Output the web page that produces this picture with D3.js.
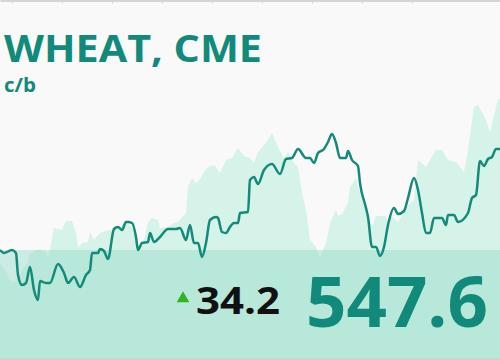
<!DOCTYPE html>
<html>
<head>
<meta charset="utf-8">
<script src="https://cdnjs.cloudflare.com/ajax/libs/d3/7.8.5/d3.min.js"></script>
<style>
  html, body { margin: 0; padding: 0; background: #f9f9f9; }
  svg { display: block; }
</style>
</head>
<body>
<div id="chart"></div>
<script>
// trading day offsets and settle prices (c/b)
const priceDays = [0,2,6,8,9,11,13,15,17,19,20,23,25,29,32,34,37,40,43,45,46,49,50,52,54,57,59,61,63,64,66,68,69,71,74,75,77,80,84,88,90,93,95,97,99,101,103,105,108,109,111,113,115,117,119,120,124,125,127,129,132,136,140,143,146,149,153,155,157,159,162,164,166,168,170,173,174,176,179,180,183,184,186,188,190,192,194,197,199,202,204,207,209,211,213,215,217,221,223,224,227,229,234,236,238,240,242,244,246,248,250];
const priceValues = [497.1,495.6,497.1,495.6,484.6,479.6,480.6,488.6,477.1,472.1,481.6,480.6,480.6,490.1,485.6,480.6,483.6,478.6,484.6,487.1,495.6,495.6,497.6,496.6,492.6,507.6,508.6,507.1,511.1,511.1,510.6,503.6,497.1,500.6,501.1,505.6,501.1,503.6,507.6,507.6,508.1,502.1,509.6,500.6,500.6,493.6,500.6,512.1,513.6,513.1,506.1,505.6,508.6,510.6,510.6,515.6,516.1,532.1,533.6,530.1,537.1,540.1,535.1,542.6,543.1,547.6,543.1,543.1,540.6,545.6,547.6,551.1,555.1,550.6,543.1,543.1,546.6,542.1,539.1,530.6,518.1,513.6,498.6,498.6,494.1,498.6,509.6,518.1,515.1,516.6,523.1,533.1,527.1,515.6,505.6,505.6,513.1,513.1,509.6,514.6,514.6,511.1,515.6,523.1,524.6,541.6,539.1,542.6,543.6,547.6,547.6];

// background series (shaded area)
const shadeDays = [0,3,5,7,9,11,14,15,18,20,23,24,25,27,31,33,36,38,39,41,44,45,47,50,54,56,58,60,63,65,68,70,72,74,76,79,80,84,87,89,93,94,96,98,99,102,104,107,110,113,116,119,122,125,127,129,133,136,139,142,144,147,149,151,153,155,158,160,163,165,168,169,171,174,175,178,179,182,184,186,188,193,194,195,199,204,207,209,213,215,218,221,224,228,232,234,237,239,243,245,247,249,250];
const shadeValues = [490.6,486.1,482.1,480.6,483.1,487.1,491.1,495.1,497.1,497.6,496.1,493.1,497.1,508.1,507.1,511.6,511.6,505.6,498.1,500.6,501.1,506.1,502.1,505.6,507.1,507.1,508.1,508.6,511.1,509.6,505.6,495.6,502.1,511.1,513.1,512.1,508.1,508.6,510.6,511.1,515.6,528.6,533.1,530.6,531.1,536.1,538.6,539.6,535.6,542.1,543.1,548.1,544.1,543.1,540.6,546.1,550.6,555.6,548.6,543.1,546.1,540.6,538.6,525.6,517.1,502.1,498.6,493.6,500.6,510.6,517.1,514.1,515.1,520.6,528.6,533.1,528.6,518.6,515.6,508.6,514.1,514.1,509.6,514.6,511.1,519.6,522.1,542.1,538.6,542.1,547.1,547.1,542.1,541.1,536.1,547.1,568.6,569.6,562.1,555.6,564.6,572.1,573.1];

const tickDays = [6,31,56,81,106,131,156,181,206];

const title = "WHEAT, CME";
const unit = "c/b";
const lastPrice = "547.6";
const change = "34.2";

const width = 500, height = 360;
const bandTop = 250, bottom = 358;

const svg = d3.select("#chart").append("svg")
  .attr("width", width)
  .attr("height", height);

svg.append("rect")
  .attr("width", width).attr("height", height)
  .attr("fill", "#f9f9f9");

const x = d3.scaleLinear().domain([0, 250]).range([0, width]);
const y = d3.scaleLinear().domain([447.6, 597.6]).range([349, 49]);

const shade = shadeDays.map((d, i) => ({ d: d, v: shadeValues[i] }));
const price = priceDays.map((d, i) => ({ d: d, v: priceValues[i] }));

const area = d3.area()
  .x(p => x(p.d))
  .y0(bottom)
  .y1(p => y(p.v));

svg.append("path")
  .datum(shade)
  .attr("fill", "#d5f3e8")
  .attr("d", area);

// lower band
svg.append("rect")
  .attr("x", 0).attr("y", bandTop)
  .attr("width", width).attr("height", bottom - bandTop)
  .attr("fill", "rgb(143,216,196)")
  .attr("fill-opacity", 0.42);

const line = d3.line()
  .curve(d3.curveMonotoneX)
  .x(p => x(p.d))
  .y(p => y(p.v));

svg.append("path")
  .datum(price)
  .attr("fill", "none")
  .attr("stroke", "#138a7a")
  .attr("stroke-width", 2.5)
  .attr("stroke-linejoin", "round")
  .attr("d", line);

// top axis
const axis = svg.append("g")
  .attr("transform", "translate(0,0.5)")
  .call(d3.axisBottom(x).tickValues(tickDays).tickSize(3).tickSizeOuter(0).tickFormat(""));
axis.select(".domain").attr("stroke", "#c9c9c9").attr("stroke-width", 1.5);
axis.selectAll(".tick line").attr("stroke", "#d4d4d4");

// bottom rule
svg.append("line")
  .attr("x1", 0).attr("x2", width)
  .attr("y1", 359).attr("y2", 359)
  .attr("stroke", "#d0d0d0").attr("stroke-width", 2);

const font = "'Open Sans', 'Lato', sans-serif";

svg.append("text")
  .attr("x", 4).attr("y", 62)
  .attr("font-family", font).attr("font-weight", 700).attr("font-size", 38)
  .attr("fill", "#128a7b")
  .attr("textLength", 258).attr("lengthAdjust", "spacingAndGlyphs")
  .text(title);

svg.append("text")
  .attr("x", 4).attr("y", 92)
  .attr("font-family", font).attr("font-weight", 700).attr("font-size", 19)
  .attr("fill", "#128a7b")
  .attr("textLength", 32).attr("lengthAdjust", "spacingAndGlyphs")
  .text(unit);

svg.append("path")
  .attr("d", d3.symbol(d3.symbolTriangle, 70)())
  .attr("transform", "translate(183,298.5)")
  .attr("fill", "#2fb51e");

svg.append("text")
  .attr("x", 196).attr("y", 314)
  .attr("font-family", font).attr("font-weight", 700).attr("font-size", 38)
  .attr("fill", "#111")
  .attr("textLength", 84).attr("lengthAdjust", "spacingAndGlyphs")
  .text(change);

svg.append("text")
  .attr("x", 306).attr("y", 327)
  .attr("font-family", font).attr("font-weight", 700).attr("font-size", 69)
  .attr("fill", "#128a7b")
  .attr("textLength", 182).attr("lengthAdjust", "spacingAndGlyphs")
  .text(lastPrice);
</script>
</body>
</html>
